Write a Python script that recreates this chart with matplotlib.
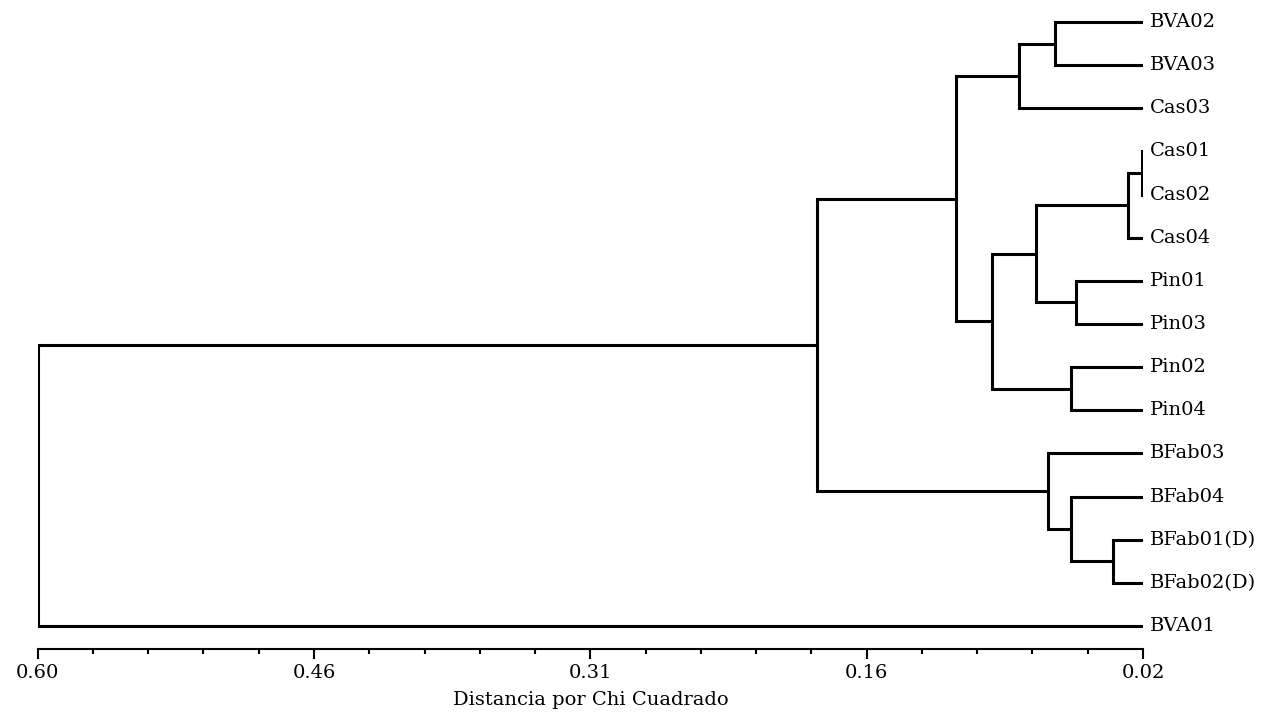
import matplotlib
matplotlib.use("Agg")
import matplotlib.pyplot as plt
import numpy as np

# Leaves, top to bottom
LEAVES = ["BVA02", "BVA03", "Cas03", "Cas01", "Cas02", "Cas04", "Pin01", "Pin03",
          "Pin02", "Pin04", "BFab03", "BFab04", "BFab01(D)", "BFab02(D)", "BVA01"]
LEAF_DIST = 0.02

# Merges: node ids 0..14 are leaves, merge i creates node 15 + i
MERGE_LEFT = [0, 15, 3, 17, 6, 18, 8, 20, 16, 12, 11, 10, 23, 27]
MERGE_RIGHT = [1, 2, 4, 5, 7, 19, 9, 21, 22, 13, 24, 25, 26, 14]
MERGE_DIST = [0.066, 0.085, 0.0205, 0.028, 0.055, 0.076, 0.058, 0.099,
              0.118, 0.036, 0.058, 0.070, 0.191, 0.600]

TICK_VALUES = [0.60, 0.455, 0.31, 0.165, 0.02]
TICK_LABELS = ["0.60", "0.46", "0.31", "0.16", "0.02"]
XLABEL = "Distancia por Chi Cuadrado"

FONT = "DejaVu Serif"

W, H = 1283, 713
fig = plt.figure(figsize=(W / 100, H / 100), dpi=100)
x0, x1 = 37.7, 1143.0
y_top, y_spine = 0.43, 649.0
ax = fig.add_axes([x0 / W, (H - y_spine) / H, (x1 - x0) / W, (y_spine - y_top) / H])

n = len(LEAVES)
pos_y = {i: float(i) for i in range(n)}
pos_x = {i: LEAF_DIST for i in range(n)}

# each merge drawn as a bracket, node y = mean of its two children
for k, (a, b, d) in enumerate(zip(MERGE_LEFT, MERGE_RIGHT, MERGE_DIST)):
    node = n + k
    ax.plot([pos_x[a], d, d, pos_x[b]], [pos_y[a], pos_y[a], pos_y[b], pos_y[b]],
            color="black", lw=2.2, solid_joinstyle="miter", solid_capstyle="butt")
    pos_y[node] = (pos_y[a] + pos_y[b]) / 2
    pos_x[node] = d

for i, name in enumerate(LEAVES):
    ax.annotate(name, (LEAF_DIST, i), xytext=(5, 0), textcoords="offset points",
                ha="left", va="center", fontsize=14, family=FONT,
                annotation_clip=False)

ax.set_xlim(0.60, 0.02)
ax.set_ylim(n - 1 + 0.533, -0.5)

for side in ["left", "right", "top"]:
    ax.spines[side].set_visible(False)
ax.spines["bottom"].set_linewidth(1.5)
ax.set_yticks([])

ax.set_xticks(TICK_VALUES)
ax.set_xticklabels(TICK_LABELS, family=FONT, fontsize=14)
step = (TICK_VALUES[0] - TICK_VALUES[1]) / 5
minor = [TICK_VALUES[0] - step * j for j in range(21)]
ax.set_xticks(minor, minor=True)
ax.tick_params(axis="x", which="major", length=7.5, width=1.5, pad=3)
ax.tick_params(axis="x", which="minor", length=3.5, width=1.5)
ax.set_xlabel(XLABEL, family=FONT, fontsize=14, labelpad=7)

fig.savefig("out.png", dpi=100)
